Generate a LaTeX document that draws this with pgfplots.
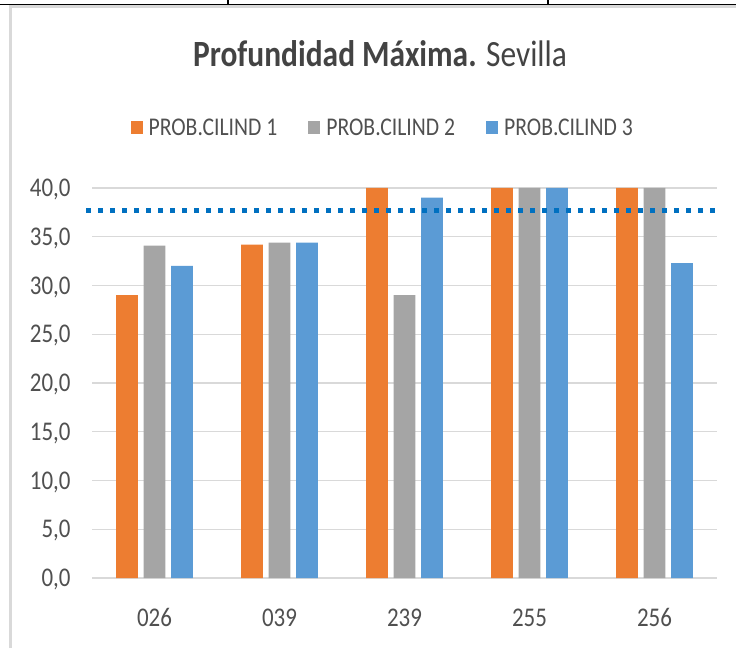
\documentclass[border=0pt]{standalone}
\usepackage{fontspec}
\setmainfont{Carlito}[FakeStretch=0.85]
\usepackage{pgfplots}
\pgfplotsset{compat=1.18}
\definecolor{orng}{HTML}{ED7D31}
\definecolor{gry}{HTML}{A5A5A5}
\definecolor{blu}{HTML}{5B9BD5}
\definecolor{dotb}{HTML}{0070C0}
\definecolor{gridc}{HTML}{D9D9D9}
\definecolor{txt}{HTML}{595959}
\pgfplotsset{mylegend/.style={legend image code/.code={\fill[##1,draw=none] (0pt,-6.5pt) rectangle (12pt,6.5pt);}}}
\begin{document}
\begin{tikzpicture}
\path[use as bounding box] (0,0) rectangle (736pt,648pt);
\draw[black, line width=1.5pt] (0,643.5pt) -- (736pt,643.5pt);
\draw[black, line width=1.5pt] (228pt,643.5pt) -- (228pt,648pt);
\draw[black, line width=1.5pt] (548pt,643.5pt) -- (548pt,648pt);
\draw[gridc, line width=2.7pt] (10.3pt,0) -- (10.3pt,641.3pt) -- (736pt,641.3pt);
\node[anchor=base, text=txt!75!black, font=\fontsize{37}{44}\selectfont, inner sep=0pt] at (380pt,581.3pt) {\textbf{Profundidad Máxima.} Sevilla};
\begin{axis}[
  at={(92pt,70pt)}, anchor=south west, scale only axis,
  width=625pt, height=390pt,
  xmin=-0.5, xmax=4.5, ymin=0, ymax=40,
  clip=false,
  axis line style={draw=none},
  major tick length=0pt,
  ymajorgrids, grid style={gridc, line width=1.3pt},
  ytick={0,5,10,15,20,25,30,35,40},
  yticklabels={{0,0},{5,0},{10,0},{15,0},{20,0},{25,0},{30,0},{35,0},{40,0}},
  xtick={0,1,2,3,4},
  xticklabels={026,039,239,255,256},
  tick label style={text=txt!90!black, font=\fontsize{27}{32}\selectfont, inner sep=0pt},
  yticklabel style={anchor=base east, xshift=-21.3pt, yshift=-8.7pt},
  xticklabel style={anchor=base, yshift=-48.7pt},
  legend columns=3,
  legend style={at={(axis description cs:0.466,1.154)}, anchor=center, draw=none, fill=none,
    font=\fontsize{25.5}{30}\selectfont, text=txt!90!black, inner sep=0pt,
    /tikz/every odd column/.append style={column sep=3pt},
    /tikz/every even column/.append style={column sep=28pt},
    nodes={inner sep=3pt}},
]
\addplot[ybar, bar width=21.7pt, bar shift=-27.5pt, fill=orng, draw=none, mylegend] coordinates {(0,29.0) (1,34.2) (2,40) (3,40) (4,40)};
\addlegendentry{PROB.CILIND 1}
\addplot[ybar, bar width=21.7pt, bar shift=0pt, fill=gry, draw=none, mylegend] coordinates {(0,34.1) (1,34.4) (2,29.0) (3,40) (4,40)};
\addlegendentry{PROB.CILIND 2}
\addplot[ybar, bar width=21.7pt, bar shift=27.5pt, fill=blu, draw=none, mylegend] coordinates {(0,32.0) (1,34.4) (2,39.0) (3,40) (4,32.3)};
\addlegendentry{PROB.CILIND 3}
\addplot[sharp plot, forget plot, dotb, line width=5pt, dash pattern=on 5pt off 7pt] coordinates {(-0.548,37.7) (4.49,37.7)};
\end{axis}
\end{tikzpicture}
\end{document}
